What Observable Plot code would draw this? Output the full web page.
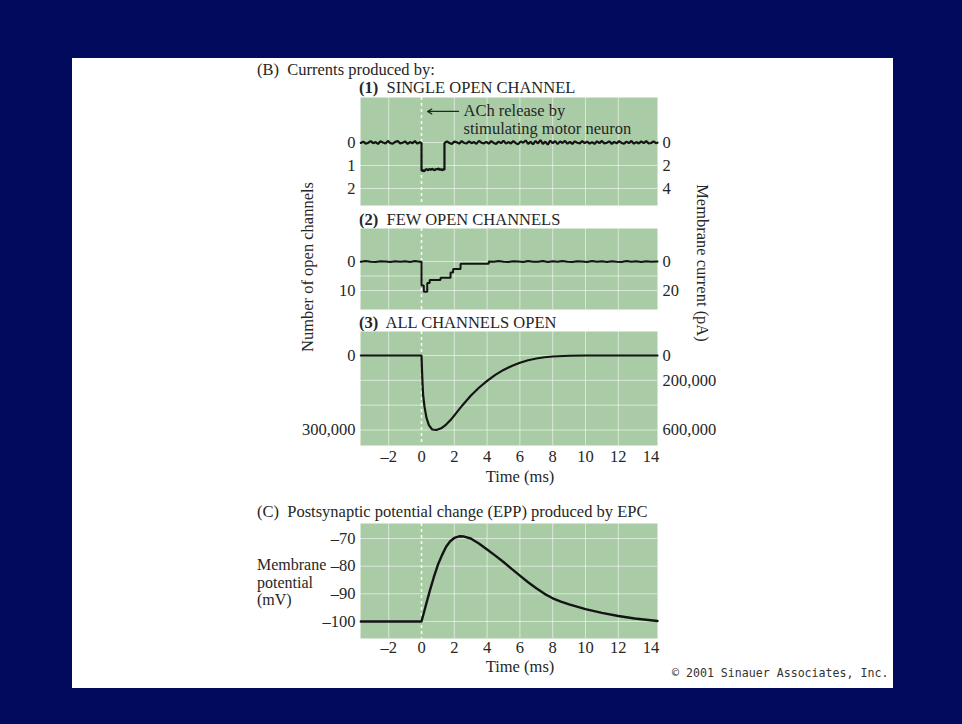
<!DOCTYPE html>
<html>
<head>
<meta charset="utf-8">
<script src="https://cdn.jsdelivr.net/npm/d3@7"></script>
<script src="https://cdn.jsdelivr.net/npm/@observablehq/plot@0.6"></script>
<style>
  html, body { margin: 0; padding: 0; }
  body { background: #020a5e; width: 962px; height: 724px; overflow: hidden; position: relative;
         font-family: "Liberation Serif", "Times New Roman", serif; color: #262626; }
  #sheet { position: absolute; left: 72px; top: 58px; width: 821px; height: 630px; background: #ffffff; }
  .t { position: absolute; font-size: 16.5px; line-height: 16px; white-space: pre; }
  .s { font-size: 16px; }
  .c { text-align: center; width: 200px; }
  .plot { position: absolute; left: 240px; }
  .copy { position: absolute; font-family: "DejaVu Sans Mono", monospace; font-size: 11.6px; line-height: 12px; color: #333; white-space: pre; }
</style>
</head>
<body>
<div id="sheet"></div>
<div class="t" style="left:257px;top:62px">(B)  Currents produced by:</div>
<div class="t" style="left:359px;top:80px"><b>(1)</b>  SINGLE OPEN CHANNEL</div>
<div class="t" style="left:359px;top:212px"><b>(2)</b>  FEW OPEN CHANNELS</div>
<div class="t" style="left:359px;top:315px"><b>(3)</b>  ALL CHANNELS OPEN</div>
<div class="t c" style="left:420px;top:469px">Time (ms)</div>
<div class="t" style="left:257px;top:504px">(C)  Postsynaptic potential change (EPP) produced by EPC</div>
<div class="t s" style="left:257px;top:557px">Membrane</div>
<div class="t s" style="left:257px;top:575px">potential</div>
<div class="t s" style="left:257px;top:592px">(mV)</div>
<div class="t c" style="left:420px;top:659px">Time (ms)</div>
<div class="t c" style="left:208px;top:259px;transform:rotate(-90deg)">Number of open channels</div>
<div class="t c" style="left:602px;top:255px;transform:rotate(90deg)">Membrane current (pA)</div>
<div class="copy" style="left:672px;top:667px">© 2001 Sinauer Associates, Inc.</div>
<div id="p1" class="plot" style="top:93px"></div>
<div id="p2" class="plot" style="top:224px"></div>
<div id="p3" class="plot" style="top:327px"></div>
<div id="p4" class="plot" style="top:519px"></div>
<script>
// ---------- data ----------
const timeTicks = [-2, 0, 2, 4, 6, 8, 10, 12, 14];
const timeGrid = [-2, 2, 4, 6, 8, 10, 12];

// (1) single open channel: number of open channels (right axis pA = 2 x channels)
const singleT_pre = [-3.7,-3.55,-3.4,-3.25,-3.1,-2.95,-2.8,-2.65,-2.5,-2.35,-2.2,-2.05,-1.9,-1.75,-1.6,-1.45,-1.3,-1.15,-1.0,-0.85,-0.7,-0.55,-0.4,-0.25,-0.1,0];
const singleV_pre = [0.02,-0.04,0.05,0.01,-0.06,0.03,-0.02,0.06,-0.05,0.0,0.04,-0.07,0.03,0.05,-0.03,-0.06,0.04,0.01,-0.05,0.06,-0.02,0.03,-0.06,0.05,-0.01,0.02];
const singleT_open = [0,0.08,0.16,0.24,0.32,0.4,0.48,0.56,0.64,0.72,0.8,0.88,0.96,1.04,1.12,1.2,1.28,1.36,1.4];
const singleV_open = [1.24,1.2,1.26,1.18,1.16,1.21,1.15,1.19,1.14,1.18,1.2,1.15,1.17,1.13,1.19,1.16,1.21,1.15,1.2];
const singleT_post = [1.4,1.55,1.7,1.85,2,2.15,2.3,2.45,2.6,2.75,
  2.9,3.05,3.2,3.35,3.5,3.65,3.8,3.95,4.1,4.25,
  4.4,4.55,4.7,4.85,5,5.15,5.3,5.45,5.6,5.75,
  5.9,6.05,6.2,6.35,6.5,6.65,6.8,6.95,7.1,7.25,
  7.4,7.55,7.7,7.85,8,8.15,8.3,8.45,8.6,8.75,
  8.9,9.05,9.2,9.35,9.5,9.65,9.8,9.95,10.1,10.25,
  10.4,10.55,10.7,10.85,11,11.15,11.3,11.45,11.6,11.75,
  11.9,12.05,12.2,12.35,12.5,12.65,12.8,12.95,13.1,13.25,
  13.4,13.55,13.7,13.85,14,14.15,14.3,14.39];
const singleV_post = [0.03,-0.05,0.02,0.06,-0.04,-0.01,0.05,-0.06,0.02,0.04,
  -0.05,0.03,-0.02,0.06,-0.07,0.01,0.04,-0.03,0.05,-0.06,
  0.02,0.06,-0.04,0.03,-0.08,0.05,-0.02,0.04,-0.06,0.03,
  0.07,-0.05,0.01,-0.09,0.06,-0.03,0.08,-0.07,0.04,-0.1,
  0.06,-0.04,0.09,-0.08,0.03,-0.06,0.07,-0.05,0.02,-0.07,
  0.05,-0.03,0.06,-0.05,0.01,0.04,-0.06,0.03,-0.04,0.05,
  -0.02,0.06,-0.05,0.03,-0.07,0.04,0.01,-0.05,0.06,-0.03,
  0.04,-0.06,0.02,0.05,-0.04,0.03,-0.07,0.05,-0.02,0.04,
  -0.05,0.03,-0.06,0.04,0.02,-0.05,0.03,0.01];
const singleLeftTicks = [0, 1, 2];
const singleGrid = [0, 1, 2];
const achText = ["ACh release by", "stimulating motor neuron"];
const achTextT = [2.56, 2.56];
const achTextY = [-1.4, -0.62];
const achArrow = [{t1: 2.26, t2: 0.37, y: -1.35}];

// (2) few open channels
const fewT_pre = [-3.7,-3.4,-3.1,-2.8,-2.5,-2.2,-1.9,-1.6,-1.3,-1.0,-0.7,-0.4,-0.1,0];
const fewV_pre = [0.1,-0.15,0.05,0.15,-0.1,0,0.2,-0.1,0.1,-0.05,0.15,-0.15,0.05,0];
const fewT_steps = [0,0.14,0.14,0.35,0.35,0.5,0.5,1.16,1.16,1.77,1.77,1.93,1.93,2.38,2.38,4.1,4.1];
const fewV_steps = [8.3,8.3,10.4,10.4,7.4,7.4,6.4,6.4,5.6,5.6,3.8,3.8,2.6,2.6,0.8,0.8,0];
const fewT_post = [4.4,4.7,5,5.3,5.6,5.9,6.2,6.5,6.8,7.1,7.4,7.7,8,8.3,8.6,8.9,9.2,9.5,9.8,10.1,10.4,10.7,11,11.3,11.6,11.9,12.2,12.5,12.8,13.1,13.4,13.7,14,14.39];
const fewV_post = [0.1,-0.15,0.05,0.2,-0.1,0.0,0.15,-0.2,0.05,0.1,-0.15,0.2,-0.05,0.1,-0.2,0.05,0.15,-0.1,0.0,0.2,-0.15,0.1,-0.05,0.2,-0.1,0.05,0.15,-0.2,0.1,-0.05,0.2,-0.1,0.05,0.0];
const fewLeftTicks = [0, 10];
const fewGrid = [0, 5, 10];

// (3) all channels open (end-plate current), in number of channels
const epcT = [-3.7,0,0.03,0.06,0.1,0.18,0.3,0.45,0.65,0.9,1.2,1.5,1.8,2.1,2.5,3,3.5,4,4.5,5,5.5,6,6.5,7,7.5,8,9,10,14.39];
const epcV = [0,0,60000,110000,160000,205000,250000,280000,298000,300000,293000,278000,258000,233000,200000,162000,130000,102000,78000,58000,42000,29000,19000,12000,7000,4000,1000,0,0];
const epcLeftTicks = [0, 300000];
const epcRightTicks = [0, 100000, 300000];
const epcGrid = [0, 100000, 200000, 300000];

// (C) end-plate potential (mV)
const eppT = [-3.7,0,0.25,0.5,0.75,1,1.25,1.5,1.75,2,2.3,2.6,3,3.5,4,4.5,5,5.5,6,6.5,7,7.5,8,8.5,9,10,11,12,13,14.39];
const eppV = [-100,-100,-94.5,-89,-84,-79.5,-76,-73,-71,-69.8,-69.2,-69.3,-70,-71.8,-74,-76.2,-78.5,-81,-83.4,-85.8,-88,-90,-91.6,-92.8,-93.8,-95.5,-96.9,-98,-98.9,-99.8];
const eppTicks = [-70, -80, -90, -100];

// ---------- drawing ----------
const GREEN = "#a9cca6";
const INK = "#141414";
const xDomain = [-3.72, 14.39];
const fmtSigned = d => d < 0 ? "\u2013" + Math.abs(d) : String(d);
const fmtNum = d => d3.format(",")(d);
const zip = (ts, vs) => ts.map((t, i) => ({t, v: vs[i]}));

function panel({height, marginBottom, yDomain, reverse, grid, line, curveWidth, extra = [], leftTicks, leftFmt, rightTicks, rightFmt, xAxis, xPad = 5}) {
  const marks = [
    Plot.frame({fill: GREEN, stroke: "none"}),
    Plot.gridX(timeGrid, {stroke: "#ffffff", strokeOpacity: 0.55, strokeWidth: 1}),
    Plot.gridY(grid, {stroke: "#ffffff", strokeOpacity: 0.55, strokeWidth: 1}),
    Plot.ruleX([0], {stroke: "#ffffff", strokeOpacity: 0.9, strokeWidth: 1.6, strokeDasharray: "3,3"}),
    Plot.line(line, {x: "t", y: "v", stroke: INK, strokeWidth: curveWidth, strokeLinejoin: "miter"}),
    ...extra,
    Plot.axisY(leftTicks, {anchor: "left", tickSize: 0, tickPadding: 5, tickFormat: leftFmt, label: null}),
  ];
  if (rightTicks) marks.push(Plot.axisY(rightTicks, {anchor: "right", tickSize: 0, tickPadding: 5, tickFormat: rightFmt, label: null}));
  if (xAxis) marks.push(Plot.axisX(timeTicks, {anchor: "bottom", tickSize: 0, tickPadding: xPad, tickFormat: fmtSigned, label: null}));
  return Plot.plot({
    width: 480, height,
    marginLeft: 120, marginRight: 63, marginTop: 4, marginBottom,
    x: {domain: xDomain, axis: xAxis ? undefined : null},
    y: {domain: yDomain, reverse},
    style: {fontFamily: "'Liberation Serif', 'Times New Roman', serif", fontSize: "16.5px", color: "#262626", background: "transparent", overflow: "visible"},
    marks
  });
}

const singleLine = [...zip(singleT_pre, singleV_pre), ...zip(singleT_open, singleV_open), ...zip(singleT_post, singleV_post)];
document.getElementById("p1").append(panel({
  height: 116, marginBottom: 4, yDomain: [-1.957, 2.739], reverse: true, grid: singleGrid,
  line: singleLine, curveWidth: 2.2,
  extra: [
    Plot.text(achText, {x: (d, i) => achTextT[i], y: (d, i) => achTextY[i], text: d => d, textAnchor: "start", fill: "#262626", fontSize: 16.5}),
    Plot.arrow(achArrow, {x1: "t1", x2: "t2", y1: "y", y2: "y", stroke: "#262626", strokeWidth: 1.2, headLength: 6})
  ],
  leftTicks: singleLeftTicks, leftFmt: d => String(d),
  rightTicks: singleLeftTicks, rightFmt: d => String(d * 2)
}));

const fewLine = [...zip(fewT_pre, fewV_pre), ...zip(fewT_steps, fewV_steps), ...zip(fewT_post, fewV_post)];
document.getElementById("p2").append(panel({
  height: 89, marginBottom: 4, yDomain: [-11.38, 16.55], reverse: true, grid: fewGrid,
  line: fewLine, curveWidth: 2,
  leftTicks: fewLeftTicks, leftFmt: d => String(d),
  rightTicks: fewLeftTicks, rightFmt: d => String(d * 2)
}));

document.getElementById("p3").append(panel({
  height: 144, marginBottom: 26, yDomain: [-96644, 362416], reverse: true, grid: epcGrid,
  line: zip(epcT, epcV), curveWidth: 2.2,
  leftTicks: epcLeftTicks, leftFmt: fmtNum,
  rightTicks: epcRightTicks, rightFmt: d => fmtNum(d * 2),
  xAxis: true, xPad: 5
}));

document.getElementById("p4").append(panel({
  height: 145, marginBottom: 26, yDomain: [-106.14, -64.58], reverse: false, grid: eppTicks,
  line: zip(eppT, eppV), curveWidth: 2.4,
  leftTicks: eppTicks, leftFmt: fmtSigned,
  xAxis: true, xPad: 3
}));
</script>
</body>
</html>
